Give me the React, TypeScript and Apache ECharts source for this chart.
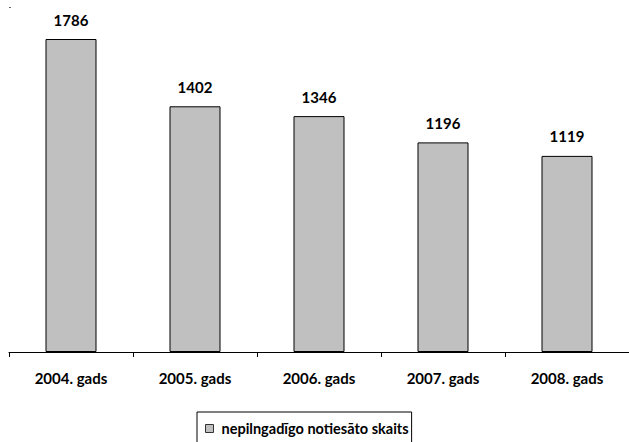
import React, { useEffect, useRef } from "react";
import * as echarts from "echarts";

const categories = ["2004. gads", "2005. gads", "2006. gads", "2007. gads", "2008. gads"];
const values = [1786, 1402, 1346, 1196, 1119];
const seriesName = "nepilngadīgo notiesāto skaits";

export default function App() {
  const ref = useRef<HTMLDivElement>(null);
  useEffect(() => {
    document.body.style.margin = "0";
    const chart = echarts.init(ref.current!, null, { renderer: "svg" });
    chart.setOption({
      animation: false,
      backgroundColor: "#ffffff",
      textStyle: { fontFamily: "Lato" },
      grid: { left: 9, top: 1.5, width: 627.5, height: 350.5, containLabel: false },
      xAxis: {
        type: "category",
        data: categories,
        boundaryGap: true,
        axisLine: { show: true, lineStyle: { color: "#000", width: 1 } },
        axisTick: { show: true, alignWithLabel: false, length: 5, lineStyle: { color: "#000" } },
        axisLabel: { margin: 18, color: "#000", fontSize: 15, fontWeight: "bold", fontFamily: "Lato" },
      },
      yAxis: {
        type: "value",
        min: 0,
        max: 2000,
        show: false,
        splitLine: { show: false },
      },
      legend: {
        show: true,
        left: 197,
        top: 412,
        data: [seriesName],
        orient: "horizontal",
        borderColor: "#000",
        borderWidth: 1,
        padding: [9, 3, 12, 8],
        itemWidth: 8,
        itemHeight: 8,
        icon: "rect",
        textStyle: { color: "#000", fontSize: 14.5, fontWeight: "bold", fontFamily: "Lato", padding: [0, 0, 0, 3] },
        itemStyle: { color: "#C0C0C0", borderColor: "#333", borderWidth: 1 },
      },
      graphic: [
        { type: "rect", shape: { x: 9, y: 7, width: 2, height: 1 }, style: { fill: "#666" } },
      ],
      series: [
        {
          name: seriesName,
          type: "bar",
          data: values,
          barWidth: 51,
          itemStyle: { color: "#C0C0C0", borderColor: "#000", borderWidth: 1 },
          label: {
            show: true,
            position: "top",
            distance: 12,
            color: "#000",
            fontSize: 15,
            fontWeight: "bold",
            fontFamily: "Lato",
          },
        },
      ],
    });
    return () => chart.dispose();
  }, []);
  return <div ref={ref} style={{ width: 629, height: 442 }} />;
}
